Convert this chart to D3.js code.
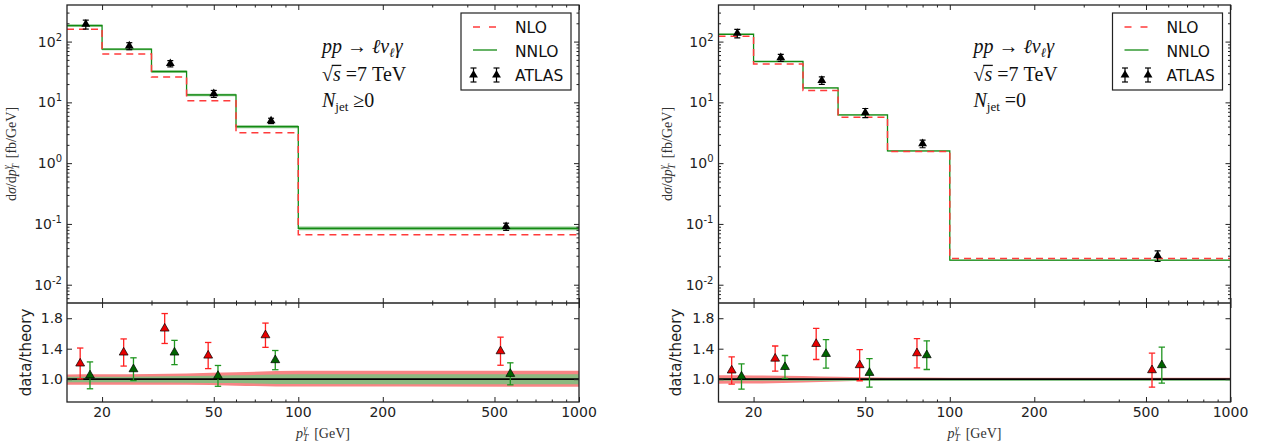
<!DOCTYPE html>
<html>
<head>
<meta charset="utf-8">
<script src="https://cdn.jsdelivr.net/npm/d3@7"></script>
<style>
  body { margin: 0; background: #fff; }
  text { font-family: "DejaVu Sans", sans-serif; }
  .math { font-family: "Liberation Serif", serif; }
</style>
</head>
<body>
<div id="chart"></div>
<script>
// photon pT bins (GeV)
var ptEdges = [15, 20, 30, 40, 60, 100, 1000];
var ptCenters = [17.5, 25, 35, 50, 80, 550];

// ---- N_jet >= 0 ----
var nloIncl = [160, 62.7, 26.1, 10.6, 3.16, 0.0663];
var nnloIncl = [184, 74.9, 32.2, 13.3, 3.98, 0.0847];
var atlasIncl = [193, 84.7, 43.5, 13.9, 4.98, 0.0906];
var ratioNloIncl = [1.206, 1.35, 1.665, 1.31, 1.577, 1.367];
var ratioNnloIncl = [1.05, 1.131, 1.35, 1.043, 1.25, 1.07];
var relErrIncl = [0.168, 0.132, 0.118, 0.131, 0.101, 0.135];
// scale bands (relative), given at the bin edges
var nloHiIncl = [1.062, 1.064, 1.068, 1.075, 1.09, 1.11, 1.11];
var nloLoIncl = [0.925, 0.926, 0.928, 0.925, 0.915, 0.902, 0.9];
var nnloHiIncl = [1.03, 1.031, 1.034, 1.04, 1.05, 1.066, 1.066];
var nnloLoIncl = [0.958, 0.958, 0.957, 0.954, 0.948, 0.935, 0.932];

// ---- N_jet = 0 ----
var nloVeto = [123, 42.9, 15.7, 5.71, 1.56, 0.0269];
var nnloVeto = [132, 47.0, 17.3, 6.24, 1.59, 0.0254];
var atlasVeto = [137, 54.5, 23, 6.76, 2.09, 0.0301];
var ratioNloVeto = [1.114, 1.27, 1.463, 1.184, 1.341, 1.118];
var ratioNnloVeto = [1.035, 1.16, 1.332, 1.083, 1.315, 1.184];
var relErrVeto = [0.16, 0.13, 0.14, 0.173, 0.143, 0.2];
var nloHiVeto = [1.05, 1.048, 1.04, 1.03, 1.022, 1.02, 1.02];
var nloLoVeto = [0.94, 0.942, 0.955, 0.97, 0.985, 0.99, 0.99];
var nnloHiVeto = [1.012, 1.012, 1.008, 1.004, 1.002, 1.0, 1.0];
var nnloLoVeto = [0.978, 0.978, 0.977, 0.976, 0.975, 0.975, 0.975];

// axis ticks
var yMajor = [0.01, 0.1, 1, 10, 100];
var xMajor = [20, 50, 100, 200, 500, 1000];
var xMinor = [30, 40, 60, 70, 80, 90, 300, 400, 600, 700, 800, 900];
var rMajor = [1.0, 1.4, 1.8];

var W = 1263, H = 446;
var topY0 = 5, splitY = 303, botY1 = 402;
var NB = "\u00a0";

var svg = d3.select("#chart").append("svg")
    .attr("width", W)
    .attr("height", H);

var panels = [
    { id: "a", x0: 67, x1: 579, nlo: nloIncl, nnlo: nnloIncl, atlas: atlasIncl,
      rNlo: ratioNloIncl, rNnlo: ratioNnloIncl, err: relErrIncl,
      nloHi: nloHiIncl, nloLo: nloLoIncl, nnloHi: nnloHiIncl, nnloLo: nnloLoIncl,
      njet: "\u22650", ylabX: 16, rlabX: 31 },
    { id: "b", x0: 718.5, x1: 1230.5, nlo: nloVeto, nnlo: nnloVeto, atlas: atlasVeto,
      rNlo: ratioNloVeto, rNnlo: ratioNnloVeto, err: relErrVeto,
      nloHi: nloHiVeto, nloLo: nloLoVeto, nnloHi: nnloHiVeto, nnloLo: nnloLoVeto,
      njet: "=0", ylabX: 672, rlabX: 681 }
];

var minorY = [];
for (var k = -3; k <= 2; k++) {
    for (var m = 2; m <= 9; m++) {
        var v = m * Math.pow(10, k);
        if (v > 0.005 && v < 400) minorY.push(v);
    }
}

var tri = d3.symbol().type(d3.symbolTriangle).size(34);

function tickAxis(gen, tr, vals, len) {
    var g = svg.append("g")
        .attr("transform", tr)
        .call(gen.tickValues(vals).tickSizeInner(-len).tickSizeOuter(0).tickFormat(""));
    g.select(".domain").remove();
    g.selectAll(".tick line").attr("stroke", "#222").attr("stroke-width", 1);
    return g;
}

panels.forEach(function (p) {
    var x = d3.scaleLog().domain([15, 1000]).range([p.x0, p.x1]);
    var y = d3.scaleLog().domain([0.005, 400]).range([splitY, topY0]);
    var yr = d3.scaleLinear().domain([0.7, 2.0]).range([botY1, splitY]);

    svg.append("clipPath").attr("id", "clipTop" + p.id)
        .append("rect").attr("x", p.x0).attr("y", topY0)
        .attr("width", p.x1 - p.x0).attr("height", splitY - topY0);
    svg.append("clipPath").attr("id", "clipBot" + p.id)
        .append("rect").attr("x", p.x0).attr("y", splitY)
        .attr("width", p.x1 - p.x0).attr("height", botY1 - splitY);

    // ---------- upper panel ----------
    var top = svg.append("g").attr("clip-path", "url(#clipTop" + p.id + ")");

    var stepData = function (vals) {
        return ptEdges.map(function (e, i) { return [e, vals[Math.min(i, vals.length - 1)]]; });
    };

    // NNLO scale band (step)
    var bandTop = ptEdges.map(function (e, i) {
        var j = Math.min(i, p.nnlo.length - 1);
        return { pt: e,
                 lo: p.nnlo[j] * (p.nnloLo[j] + p.nnloLo[j + 1]) / 2,
                 hi: p.nnlo[j] * (p.nnloHi[j] + p.nnloHi[j + 1]) / 2 };
    });
    top.append("path")
        .datum(bandTop)
        .attr("fill", "#86c586")
        .attr("d", d3.area().curve(d3.curveStepAfter)
            .x(function (d) { return x(d.pt); })
            .y0(function (d) { return y(d.lo); })
            .y1(function (d) { return y(d.hi); }));

    var stepLine = d3.line().curve(d3.curveStepAfter)
        .x(function (d) { return x(d[0]); })
        .y(function (d) { return y(d[1]); });

    top.append("path")
        .datum(stepData(p.nnlo))
        .attr("fill", "none")
        .attr("stroke", "#138a13")
        .attr("stroke-width", 1.3)
        .attr("d", stepLine);

    top.append("path")
        .datum(stepData(p.nlo))
        .attr("fill", "none")
        .attr("stroke", "#ff3b3b")
        .attr("stroke-width", 1.5)
        .attr("stroke-dasharray", "7,5")
        .attr("d", stepLine);

    // ATLAS points
    var pts = top.selectAll(".atl").data(p.atlas).enter().append("g");
    pts.append("line")
        .attr("x1", function (d, i) { return x(ptCenters[i]); })
        .attr("x2", function (d, i) { return x(ptCenters[i]); })
        .attr("y1", function (d, i) { return y(d * (1 + p.err[i])); })
        .attr("y2", function (d, i) { return y(d * (1 - p.err[i])); })
        .attr("stroke", "#000").attr("stroke-width", 1.2);
    [1, -1].forEach(function (s) {
        pts.append("line")
            .attr("x1", function (d, i) { return x(ptCenters[i]) - 3; })
            .attr("x2", function (d, i) { return x(ptCenters[i]) + 3; })
            .attr("y1", function (d, i) { return y(d * (1 + s * p.err[i])); })
            .attr("y2", function (d, i) { return y(d * (1 + s * p.err[i])); })
            .attr("stroke", "#000").attr("stroke-width", 1.2);
    });
    pts.append("path")
        .attr("d", tri)
        .attr("transform", function (d, i) { return "translate(" + x(ptCenters[i]) + "," + y(d) + ")"; })
        .attr("fill", "#000");

    // ---------- ratio panel ----------
    var bot = svg.append("g").attr("clip-path", "url(#clipBot" + p.id + ")");
    var bandArea = d3.area().curve(d3.curveMonotoneX)
        .x(function (d) { return x(d.pt); })
        .y0(function (d) { return yr(d.lo); })
        .y1(function (d) { return yr(d.hi); });
    bot.append("path")
        .datum(ptEdges.map(function (e, i) { return { pt: e, lo: p.nloLo[i], hi: p.nloHi[i] }; }))
        .attr("fill", "#f88484")
        .attr("d", bandArea);
    bot.append("path")
        .datum(ptEdges.map(function (e, i) { return { pt: e, lo: p.nnloLo[i], hi: p.nnloHi[i] }; }))
        .attr("fill", "#7fbf7f")
        .attr("fill-opacity", 0.9)
        .attr("d", bandArea);
    bot.append("line")
        .attr("x1", p.x0).attr("x2", p.x1)
        .attr("y1", yr(1)).attr("y2", yr(1))
        .attr("stroke", "#000").attr("stroke-width", 1.6);

    var series = [
        { vals: p.rNlo, shift: 0.955, bar: "#ff2020", fill: "#e80000" },
        { vals: p.rNnlo, shift: 1.035, bar: "#1f951f", fill: "#006400" }
    ];
    series.forEach(function (s) {
        var g = bot.selectAll(null).data(s.vals).enter().append("g");
        var px = function (d, i) { return x(ptCenters[i] * s.shift); };
        g.append("line")
            .attr("x1", px).attr("x2", px)
            .attr("y1", function (d, i) { return yr(d * (1 + p.err[i])); })
            .attr("y2", function (d, i) { return yr(d * (1 - p.err[i])); })
            .attr("stroke", s.bar).attr("stroke-width", 1.3);
        [1, -1].forEach(function (sg) {
            g.append("line")
                .attr("x1", function (d, i) { return px(d, i) - 3.2; })
                .attr("x2", function (d, i) { return px(d, i) + 3.2; })
                .attr("y1", function (d, i) { return yr(d * (1 + sg * p.err[i])); })
                .attr("y2", function (d, i) { return yr(d * (1 + sg * p.err[i])); })
                .attr("stroke", s.bar).attr("stroke-width", 1.3);
        });
        g.append("path")
            .attr("d", tri)
            .attr("transform", function (d, i) { return "translate(" + px(d, i) + "," + yr(d) + ")"; })
            .attr("fill", s.fill)
            .attr("stroke", "#000").attr("stroke-width", 0.7);
    });

    // ---------- ticks ----------
    tickAxis(d3.axisLeft(y), "translate(" + p.x0 + ",0)", yMajor, 5);
    tickAxis(d3.axisLeft(y), "translate(" + p.x0 + ",0)", minorY, 2.5);
    tickAxis(d3.axisRight(y), "translate(" + p.x1 + ",0)", yMajor, 5);
    tickAxis(d3.axisRight(y), "translate(" + p.x1 + ",0)", minorY, 2.5);
    tickAxis(d3.axisTop(x), "translate(0," + topY0 + ")", xMajor, 5);
    tickAxis(d3.axisTop(x), "translate(0," + topY0 + ")", xMinor, 2.5);
    tickAxis(d3.axisBottom(x), "translate(0," + splitY + ")", xMajor, 5);
    tickAxis(d3.axisBottom(x), "translate(0," + splitY + ")", xMinor, 2.5);
    tickAxis(d3.axisTop(x), "translate(0," + splitY + ")", xMajor, 5);
    tickAxis(d3.axisTop(x), "translate(0," + splitY + ")", xMinor, 2.5);
    tickAxis(d3.axisBottom(x), "translate(0," + botY1 + ")", xMajor, 5);
    tickAxis(d3.axisBottom(x), "translate(0," + botY1 + ")", xMinor, 2.5);
    tickAxis(d3.axisLeft(yr), "translate(" + p.x0 + ",0)", rMajor, 5);
    tickAxis(d3.axisRight(yr), "translate(" + p.x1 + ",0)", rMajor, 5);

    // frames
    svg.append("rect")
        .attr("x", p.x0).attr("y", topY0)
        .attr("width", p.x1 - p.x0).attr("height", botY1 - topY0)
        .attr("fill", "none").attr("stroke", "#222").attr("stroke-width", 1.3);
    svg.append("line")
        .attr("x1", p.x0).attr("x2", p.x1)
        .attr("y1", splitY).attr("y2", splitY)
        .attr("stroke", "#222").attr("stroke-width", 1.3);

    // tick labels
    yMajor.forEach(function (v) {
        var e = Math.round(Math.log10(v));
        var t = svg.append("text")
            .attr("x", p.x0 - 5)
            .attr("y", y(v) + 5)
            .attr("text-anchor", "end")
            .attr("font-size", 14)
            .attr("fill", "#222");
        t.append("tspan").text("10");
        t.append("tspan").attr("font-size", 10).attr("dy", -6).text(String(e));
    });
    rMajor.forEach(function (v) {
        svg.append("text")
            .attr("x", p.x0 - 4)
            .attr("y", yr(v) + 5)
            .attr("text-anchor", "end")
            .attr("font-size", 14)
            .attr("fill", "#222")
            .text(v.toFixed(1));
    });
    xMajor.forEach(function (v) {
        svg.append("text")
            .attr("x", x(v))
            .attr("y", 417)
            .attr("text-anchor", "middle")
            .attr("font-size", 14)
            .attr("fill", "#222")
            .text(v);
    });

    // axis titles
    var yl = svg.append("text")
        .attr("class", "math")
        .attr("transform", "translate(" + p.ylabX + "," + ((topY0 + splitY) / 2) + ") rotate(-90)")
        .attr("text-anchor", "middle")
        .attr("font-size", 14)
        .attr("fill", "#333");
    yl.append("tspan").text("d");
    yl.append("tspan").attr("font-style", "italic").text("\u03c3");
    yl.append("tspan").text("/d");
    yl.append("tspan").attr("font-style", "italic").text("p");
    yl.append("tspan").attr("font-style", "italic").attr("font-size", 9.5).attr("dy", 3).text("T");
    yl.append("tspan").attr("font-style", "italic").attr("font-size", 9.5).attr("dx", -5).attr("dy", -9).text("\u03b3");
    yl.append("tspan").attr("dy", 6).text(NB + NB + "[fb/GeV]");

    svg.append("text")
        .attr("transform", "translate(" + p.rlabX + "," + ((splitY + botY1) / 2) + ") rotate(-90)")
        .attr("text-anchor", "middle")
        .attr("font-size", 15)
        .attr("fill", "#222")
        .text("data/theory");

    var xl = svg.append("text")
        .attr("class", "math")
        .attr("x", (p.x0 + p.x1) / 2)
        .attr("y", 438)
        .attr("text-anchor", "middle")
        .attr("font-size", 14)
        .attr("fill", "#333");
    xl.append("tspan").attr("font-style", "italic").text("p");
    xl.append("tspan").attr("font-style", "italic").attr("font-size", 9.5).attr("dy", 3).text("T");
    xl.append("tspan").attr("font-style", "italic").attr("font-size", 9.5).attr("dx", -5).attr("dy", -9).text("\u03b3");
    xl.append("tspan").attr("dy", 6).text(NB + NB + "[GeV]");

    // process annotation
    var ax = p.x0 + 255;
    var fs = 20;
    var l1 = svg.append("text").attr("class", "math").attr("x", ax).attr("y", 53)
        .attr("font-size", fs).attr("fill", "#111");
    l1.append("tspan").attr("font-style", "italic").text("pp");
    l1.append("tspan").text(NB + "\u2192" + NB);
    l1.append("tspan").attr("font-style", "italic").text("\u2113\u03bd");
    l1.append("tspan").attr("font-style", "italic").attr("font-size", 13).attr("dy", 4).text("\u2113");
    l1.append("tspan").attr("font-style", "italic").attr("dy", -4).text("\u03b3");

    var l2 = svg.append("text").attr("class", "math").attr("x", ax).attr("y", 81)
        .attr("font-size", fs).attr("fill", "#111");
    l2.append("tspan").text("\u221a");
    l2.append("tspan").attr("font-style", "italic").text("s");
    l2.append("tspan").text(NB + "=7" + NB + "TeV");
    // vinculum of the square root over "s"
    var r0 = l2.node().getExtentOfChar(0), r1 = l2.node().getExtentOfChar(1);
    svg.append("line")
        .attr("x1", r0.x + r0.width - 1.2).attr("x2", r1.x + r1.width + 0.5)
        .attr("y1", 81 - fs * 0.78).attr("y2", 81 - fs * 0.78)
        .attr("stroke", "#111").attr("stroke-width", 1.3);

    var l3 = svg.append("text").attr("class", "math").attr("x", ax).attr("y", 107)
        .attr("font-size", fs).attr("fill", "#111");
    l3.append("tspan").attr("font-style", "italic").text("N");
    l3.append("tspan").attr("font-size", 13).attr("dy", 4).text("jet");
    l3.append("tspan").attr("dy", -4).text(NB + p.njet);

    // legend
    var lx = p.x1 - 118, ly = 13;
    var leg = svg.append("g").attr("transform", "translate(" + lx + "," + ly + ")");
    leg.append("rect").attr("width", 110).attr("height", 77)
        .attr("fill", "#fff").attr("stroke", "#222").attr("stroke-width", 1.2);
    leg.append("line").attr("x1", 12).attr("x2", 36).attr("y1", 14).attr("y2", 14)
        .attr("stroke", "#ff3b3b").attr("stroke-width", 1.5).attr("stroke-dasharray", "7,9");
    leg.append("line").attr("x1", 12).attr("x2", 36).attr("y1", 37).attr("y2", 37)
        .attr("stroke", "#138a13").attr("stroke-width", 1.3);
    [12.5, 35.5].forEach(function (mx) {
        leg.append("line").attr("x1", mx).attr("x2", mx).attr("y1", 55).attr("y2", 69)
            .attr("stroke", "#000").attr("stroke-width", 1.2);
        leg.append("line").attr("x1", mx - 3).attr("x2", mx + 3).attr("y1", 55).attr("y2", 55)
            .attr("stroke", "#000").attr("stroke-width", 1.2);
        leg.append("line").attr("x1", mx - 3).attr("x2", mx + 3).attr("y1", 69).attr("y2", 69)
            .attr("stroke", "#000").attr("stroke-width", 1.2);
        leg.append("path").attr("d", tri).attr("transform", "translate(" + mx + ",62)").attr("fill", "#000");
    });
    ["NLO", "NNLO", "ATLAS"].forEach(function (name, i) {
        leg.append("text").attr("x", 54).attr("y", 19.5 + i * 24)
            .attr("font-size", 15.5).attr("fill", "#111").text(name);
    });
});
</script>
</body>
</html>
